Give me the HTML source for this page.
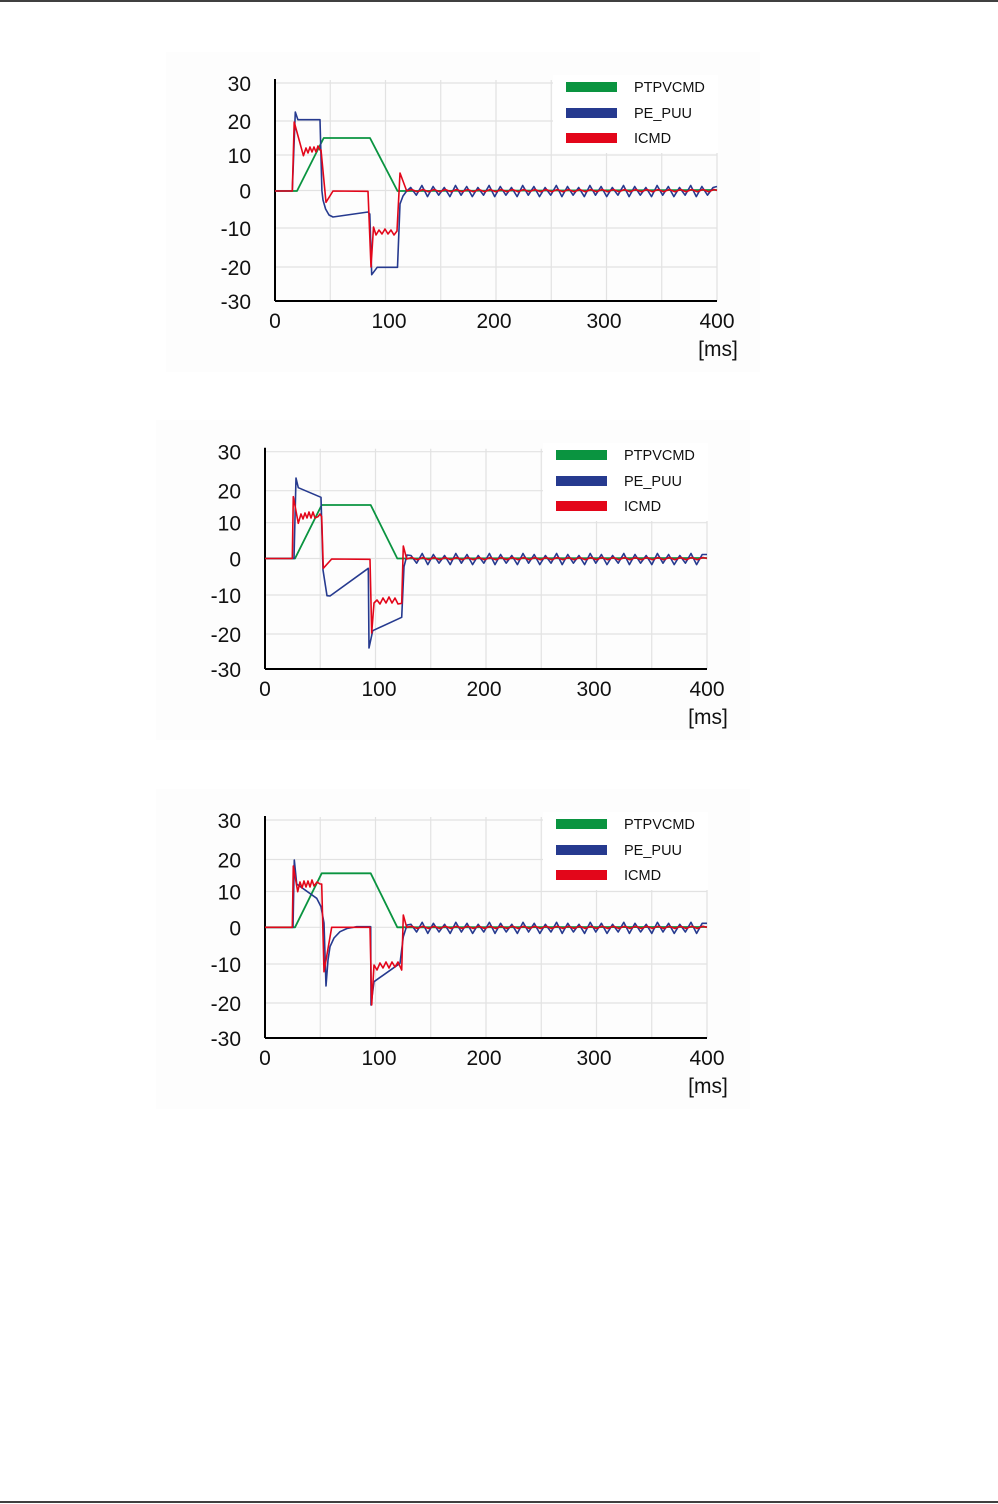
<!DOCTYPE html>
<html><head><meta charset="utf-8"><style>
html,body{margin:0;padding:0;background:#fff;}
svg{display:block;}
text{font-family:"Liberation Sans",Arial,sans-serif;fill:#111;}
</style></head><body>
<svg id="s" width="998" height="1504" viewBox="0 0 998 1504" xmlns="http://www.w3.org/2000/svg">
<line x1="0" y1="1" x2="998" y2="1" stroke="#000" stroke-width="1.5"/>
<line x1="0" y1="1502" x2="998" y2="1502" stroke="#000" stroke-width="1.5"/>
</svg>
<script>
var s=document.getElementById('s');var NS='http://www.w3.org/2000/svg';
function el(t,a,txt){var e=document.createElementNS(NS,t);for(var k in a)e.setAttribute(k,a[k]);if(txt!==undefined)e.textContent=txt;s.appendChild(e);return e;}
function pl(pts,c,w){el('polyline',{points:pts.map(function(p){return p[0].toFixed(1)+','+p[1].toFixed(1)}).join(' '),fill:'none',stroke:c,'stroke-width':w||1.6,'stroke-linejoin':'round'});}
var G='#0a9440',B='#263a8f',R='#e3061a';
var charts=[
 {dx:0,dy:0,lv:[83,121,155,190.5,228,267,301],
  green:[[275,191],[297,191],[323.7,138],[370,138],[397.5,191],[717,190]],
  blue:[[275,191],[292.3,191],[295.3,112],[297.9,119.7],[320,119.7],[321.9,190.7],[323,200],[325.6,209],[329,215],[333,217],[368,212],[369.8,214],[371.7,274.7],[377.2,267.3],[397.5,267.3],[400,204],[403,196],[406.7,191]],
  red:[[275,191],[292.3,191],[294.2,122],[303.4,155.7],[306,148],[308,153],[310,147],[312,152],[314,147],[316,152],[318,146],[320,150],[321,150],[326,202.3],[333,191],[368,191.3],[371,267],[373.5,227],[376,235],[379,230],[382,234],[385,229],[388,234],[391,230],[394,235],[397,231],[400,173],[406.7,191],[717,191]]},
 {dx:-10,dy:368,lv:[451.7,490.7,522.7,558.5,595,634,669],
  green:[[265,558.5],[295,558.5],[321.7,505],[370.7,505],[397.3,558.5],[707,558]],
  blue:[[265,558.5],[294,558.5],[296,478],[298.3,487.7],[321,497.3],[323,570],[327,595.7],[330,596],[368.3,568.3],[369,648],[372.7,630.7],[401.7,617.3],[404,566.7],[407,555]],
  red:[[265,558.5],[292.3,558.5],[293.3,496.7],[298.3,523.3],[301,514],[303,519],[305,513],[307,518],[309,512],[311,518],[313,512],[315,518],[318,516.7],[320,514],[321.7,516.7],[323.3,568.3],[331.7,559],[370,559.3],[371.7,633],[374,603],[377,600],[380,604],[383,598],[386,603],[389,597],[392,603],[395,598],[398,604],[401.7,603.3],[403.3,546],[406.7,559],[707,559]]},
 {dx:-10,dy:737,lv:[820,859.5,891.5,927.3,964,1003,1038],
  green:[[265,927.3],[295,927.3],[321.7,873.3],[370.7,873.3],[397.3,927.3],[707,927]],
  blue:[[265,927.3],[293,927.3],[294.3,860],[296.7,884],[316.7,898.3],[321,906.7],[324,923],[326,986],[328,960],[330,946.7],[334,938],[340,931.7],[347,928.5],[356.7,926.7],[370.7,926.7],[371,1005],[374,981.7],[400,963.3],[403.3,936.7],[407,925]],
  red:[[265,927.3],[292.3,927.3],[293.3,866],[297.7,891.7],[300,882],[302,888],[304,881],[306,887],[308,881],[310,887],[312,880],[314,886],[317,882],[320,884],[321.7,884],[324,971.7],[331.7,927.3],[370,927.3],[371.7,1005],[374,965],[377,970],[380,963],[383,968],[386,962],[389,968],[392,962],[395,967],[398,962],[401.7,970],[403.3,915],[406.7,927.3],[707,927.3]]}
];
charts.forEach(function(c,ci){
 var x0=275+c.dx,x1=717+c.dx,dx=c.dx,dy=c.dy;
 el('rect',{x:166+dx,y:52+dy,width:594,height:320,fill:'#fdfdfd'});
 for(var k=1;k<=8;k++){var gx=x0+55.25*k;el('line',{x1:gx,y1:c.lv[0]-3,x2:gx,y2:c.lv[6],stroke:'#e2e2e2','stroke-width':1.2});}
 c.lv.forEach(function(y){el('line',{x1:x0,y1:y,x2:x1,y2:y,stroke:'#e2e2e2','stroke-width':1.2});});
 el('rect',{x:553+dx,y:dy+75,width:165,height:78,fill:'#fff'});
 el('line',{x1:x0,y1:c.lv[0]-4,x2:x0,y2:c.lv[6],stroke:'#000','stroke-width':2});
 el('line',{x1:x0,y1:c.lv[6],x2:x1,y2:c.lv[6],stroke:'#000','stroke-width':2});
 ['30','20','10','0','-10','-20','-30'].forEach(function(t,i){el('text',{x:251+dx,y:c.lv[i]+8,'font-size':21,'text-anchor':'end'},t);});
 [[0,275],[100,389],[200,494],[300,604],[400,717]].forEach(function(p){el('text',{x:p[1]+dx,y:328+dy,'font-size':21,'text-anchor':'middle'},String(p[0]));});
 el('text',{x:718+dx,y:356+dy,'font-size':21,'text-anchor':'middle'},'[ms]');
 pl(c.green,G,1.8);
 var zero=c.lv[3],b=c.blue.slice(),x=c.blue[c.blue.length-1][0]+4,i=0;
 while(x<x1){var a=(i%2==0)?-(3+(i%3)):(4+(i%4)*0.7);b.push([x,zero+a]);x+=5.6;i++;}
 b.push([x1,zero-4]);
 pl(b,B,1.6);
 var r=c.red.slice();r.pop();x=r[r.length-1][0]+5;i=0;
 while(x<x1){r.push([x,zero+((i%2)?1.2:-1)]);x+=5.6;i++;}
 r.push([x1,zero]);
 pl(r,R,1.6);
 [['PTPVCMD',G,87],['PE_PUU',B,113],['ICMD',R,138]].forEach(function(L){
  el('rect',{x:566+dx,y:L[2]+dy-5,width:51,height:10,fill:L[1]});
  el('text',{x:634+dx,y:L[2]+dy+5,'font-size':14.5},L[0]);
 });
});
</script>
</body></html>
